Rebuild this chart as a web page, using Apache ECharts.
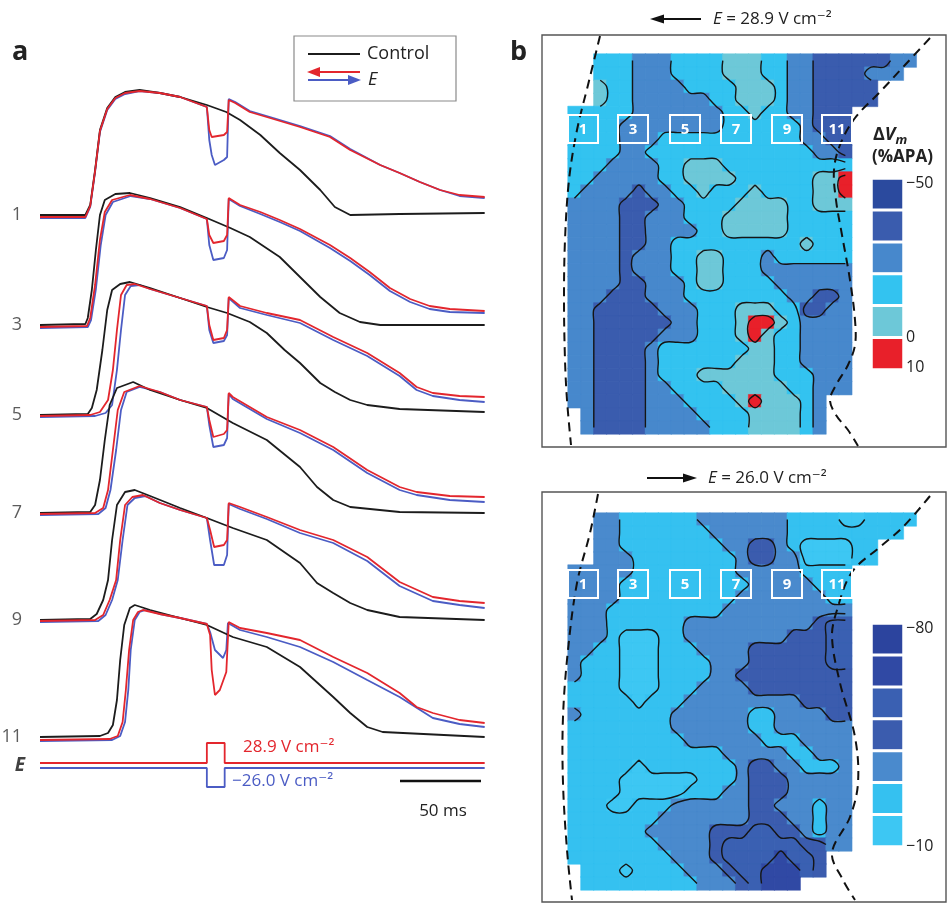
<!DOCTYPE html>
<html>
<head>
<meta charset="utf-8">
<script src="https://cdn.jsdelivr.net/npm/echarts/dist/echarts.min.js"></script>
<style>
html, body { margin: 0; padding: 0; background: #fff; }
#chart { width: 947px; height: 904px; }
</style>
</head>
<body>
<div id="chart"></div>
<script>
// ---- panel a: optical action potentials, time in ms, signal in a.u. above rest ----
var traceLabels = ['1', '3', '5', '7', '9', '11'];
var traceOffsets = [585, 475, 385, 287, 180, 63];

var controlTraces = [
  [[0,0],[28,0],[31,10],[34,45],[37,85],[41.5,107],[46.5,118],[52.5,123],[61.5,125],[74,122],[86.5,118],[103,110],[115,103],[123.5,95],[136,80],[148,62],[160.5,45],[173,25],[182,8],[191.5,0],[222,1],[274.5,2]],
  [[0,0],[28,1],[29.5,7],[32,35],[34.5,75],[37,110],[40,125],[46.5,131],[55.5,132],[68,127],[86.5,118],[103,107],[117.5,97],[129.5,88],[148,68],[160.5,48],[173,28],[185,12],[197.5,3],[210,0],[274.5,0]],
  [[0,0],[29.5,1],[32,7],[35,25],[38.5,65],[41.5,105],[44.5,125],[49.5,131],[55.5,133],[68,127],[86.5,117],[103,108],[115.5,102],[129.5,93],[140,82],[151,65],[160.5,52],[173,32],[182,23],[191.5,15],[202,10],[222,6],[274.5,3]],
  [[0,0],[31,1],[34,8],[37,33],[40,73],[43,108],[47.5,125],[57.5,131],[68,123],[86.5,113],[103,105],[119,90],[140,73],[160.5,46],[171,26],[181,13],[191.5,6],[222,1],[274.5,0]],
  [[0,0],[31,1],[35,6],[39,20],[42,40],[44.5,80],[47.5,115],[52.5,128],[58.5,130],[68,124],[86.5,112],[103,102],[119,92],[140,80],[160.5,57],[171,37],[181,27],[191.5,17],[202,10],[222,3],[274.5,0]],
  [[0,0],[37,1],[42,4],[45,12],[47.5,37],[49.5,77],[52,112],[55.5,129],[58.5,132],[68,127],[86.5,119],[103,112],[119,100],[140,90],[160.5,70],[181,40],[191.5,24],[202,10],[211.5,5],[274.5,0]]
];

var redTraces = [
  [[0,-2],[28,-2],[31,9],[34,44],[37,84],[41.5,106],[46.5,117],[52.5,122],[61.5,124],[74,122],[86.5,118],[103,108],[104.5,85],[106,78],[113.5,80],[115.5,83],[116.5,115],[120.5,112],[129.5,103],[142,97],[160.5,88],[179,78],[191.5,65],[210,50],[222,42],[234.5,33],[247,25],[259,20],[274.5,18]],
  [[0,-2],[29,-1],[31,7],[34,40],[37,85],[40,113],[44.5,125],[55.5,130],[68,126],[86.5,117],[103,106],[104.5,90],[107,82],[113.5,84],[115.5,90],[116.5,127],[123.5,120],[136,113],[148,105],[160.5,96],[179,80],[191.5,67],[203.5,53],[216,37],[228.5,26],[240.5,19],[253,16],[274.5,14]],
  [[0,-1],[31,0],[37,3],[42,15],[45,45],[47.5,85],[50,120],[53.5,130],[58.5,131],[68,126],[86.5,117],[103,109],[104.5,90],[107,75],[113.5,77],[115.5,85],[116.5,118],[123.5,109],[140,102],[160.5,95],[181,78],[202,62],[222,42],[232.5,28],[242.5,22],[259,19],[274.5,18]],
  [[0,-1],[34,0],[39,5],[42,23],[45,63],[48,103],[52,121],[61.5,127],[74,121],[86.5,113],[103,106],[104.5,93],[107,76],[113.5,79],[115.5,83],[116.5,120],[119,116],[140,96],[160.5,83],[181,66],[202,43],[222,26],[232.5,21],[253,17],[274.5,16]],
  [[0,-1],[34,0],[39,5],[43,20],[47,40],[49.5,80],[52.5,115],[57,123],[63.5,125],[74,117],[86.5,110],[103,102],[105,90],[107.5,73],[113.5,75],[115.5,80],[116.5,117],[123.5,113],[140,103],[160.5,90],[181,80],[202,63],[222,38],[242.5,23],[259,19],[274.5,17]],
  [[0,-3],[43,-2],[48,1],[51,15],[53,47],[55,87],[57.5,117],[60.5,125],[63.5,127],[74,123],[86.5,119],[103,113],[105,102],[106,67],[108,42],[111,47],[115,65],[116.5,115],[123.5,109],[140,104],[160.5,97],[181,80],[202,64],[222,44],[232.5,30],[242.5,24],[259,17],[274.5,14]]
];

var blueTraces = [
  [[0,-3],[28,-3],[31,8],[34,43],[37,83],[41.5,105],[46.5,116],[52.5,121],[61.5,124],[74,122],[86.5,118],[103,108],[104.5,75],[106,60],[108,50],[113.5,55],[115.5,58],[116.5,116],[120.5,113],[129.5,104],[142,98],[160.5,89],[179,79],[191.5,66],[210,50],[222,42],[234.5,33],[247,25],[259,19],[274.5,17]],
  [[0,-3],[29.5,-2],[31.5,5],[34.5,36],[37.5,80],[40.5,110],[45,123],[56,129],[68,126],[86.5,117],[103,106],[104.5,80],[107,65],[113.5,67],[115.5,75],[116.5,126],[123.5,119],[136,111],[148,103],[160.5,94],[179,77],[191.5,64],[203.5,50],[216,34],[228.5,23],[240.5,16],[253,13],[274.5,12]],
  [[0,-2],[34,-1],[40.5,2],[44.5,10],[47.5,45],[50,85],[52.5,120],[56,129],[61.5,130],[68,126],[86.5,117],[103,109],[104.5,85],[107,72],[113.5,74],[115.5,80],[116.5,117],[123.5,107],[140,100],[160.5,92],[181,75],[202,59],[222,39],[232.5,25],[242.5,19],[259,15],[274.5,13]],
  [[0,-2],[36,-1],[40.5,5],[43.5,23],[47,63],[50,103],[53.5,121],[61.5,126],[74,121],[86.5,113],[103,106],[104.5,88],[107,66],[113.5,68],[115.5,75],[116.5,119],[119,114],[140,94],[160.5,80],[181,63],[202,40],[222,23],[232.5,18],[253,13],[274.5,11]],
  [[0,-2],[36,-1],[40.5,5],[44.5,20],[48,40],[51,80],[54,115],[58.5,122],[65,124],[74,117],[86.5,110],[103,102],[105,80],[107.5,55],[113.5,55],[115.5,65],[116.5,116],[123.5,111],[140,101],[160.5,87],[181,77],[202,59],[222,34],[242.5,19],[259,15],[274.5,12]],
  [[0,-4],[44.5,-3],[49.5,1],[52.5,15],[54.5,47],[56,87],[58.5,117],[61.5,125],[65,127],[74,123],[86.5,119],[103,113],[105,105],[108,87],[113,79],[115,87],[116,114],[123.5,107],[140,100],[160.5,90],[181,75],[202,57],[222,40],[242.5,19],[259,13],[274.5,10]]
];

// field pulse (bottom "E" row)
var pulseRed = [[0,0],[103,0],[103,20],[114,20],[114,0],[274.5,0]];
var pulseBlue = [[0,0],[103,0],[103,-19],[114,-19],[114,0],[274.5,0]];
var pulseOffsets = [37, 32];

// ---- panel b: ΔVm maps, one character per pixel cell = colour band index, '.' = no data ----
var mapTopRows = [
  '..4443334444555443322222233',
  '..444333444455544332222333.',
  '..5443333444455543322222...',
  '..5443333334455543322222...',
  '4444433333334454433222.....',
  '4444333333334444443222.....',
  '4444333444444444443322.....',
  '4444334444444444444332.....',
  '4443333445554444444444.....',
  '4433333445555444444556.....',
  '4333323344544454444556.....',
  '3333222334444555544555.....',
  '3333223334445555544444.....',
  '3333223333445555544444.....',
  '3333223344444444445444.....',
  '3333233344554443444444.....',
  '3333233344554443333333.....',
  '3333223334554444333333.....',
  '3332223334444444433223.....',
  '3322222333444555442233.....',
  '3322222233444566543333.....',
  '3322222333444565443333.....',
  '3322223444444455443333.....',
  '3322223444444555443333.....',
  '3322223444555555444333.....',
  '3322223344445555544333.....',
  '33222233344445655543.......',
  '.3222233334444555543.......',
  '.3222233333444555543.......'
];
var mapBottomRows = [
  '..5566666655555556666776666',
  '..556666666555555666666666.',
  '..5566666666554456777766...',
  '..5556666666654455777766...',
  '5555566666666555556666.....',
  '5555666666666655555666.....',
  '5555666666666555555566.....',
  '5556666666665555555555.....',
  '5556666665555555555433.....',
  '5556777665555555544433.....',
  '5566777666555544444433.....',
  '5666777666655544444433.....',
  '5666777666655444444444.....',
  '6666777666555544444444.....',
  '6666676665555555554444.....',
  '5666666655555566555544.....',
  '6666666655555566555555.....',
  '6666666665555556665555.....',
  '6666666666665555566555.....',
  '6666676666666544556665.....',
  '6666777777666544455555.....',
  '6666777776665544455555.....',
  '6667766655555544555655.....',
  '6666666555555544455655.....',
  '6666665555544433445655.....',
  '6666666555543333334455.....',
  '66666666555433332334.......',
  '.6667666655543322234.......',
  '.66666666655543222........'
];

var topLevels = [1, 2, 3, 4, 5, 6];          // -50 ... 10 %APA
var bottomLevels = [1, 2, 3, 4, 5, 6, 7];    // -80 ... -10 %APA
var topColors = ['#2b4a9e', '#3a5cae', '#4788cc', '#33c3f0', '#6dc8d8', '#e8202a'];
var bottomColors = ['#2c449e', '#3049a4', '#3a60b2', '#3b5cae', '#4a8acd', '#35c1f0', '#3dc7f3'];
var electrodeLabels = ['1', '3', '5', '7', '9', '11'];

var FONT = '"Open Sans", "DejaVu Sans", sans-serif';
var RED = '#e3262d', BLUE = '#4b5cc4', BLACK = '#1c1c1c';

function shift(points, off) {
  return points.map(function (p) { return [p[0], p[1] + off]; });
}

// cells carry a same-colour hairline border so neighbouring rects leave no seam
function heatData(rows, colors) {
  var out = [];
  for (var r = 0; r < rows.length; r++) {
    for (var c = 0; c < rows[r].length; c++) {
      var ch = rows[r].charAt(c);
      if (ch === '.') continue;
      var lv = Number(ch);
      out.push({ value: [c, r, lv], itemStyle: { borderColor: colors[lv - 1], borderWidth: 0.5 } });
    }
  }
  return out;
}

// marching squares over cell centres, one pass per band boundary
function contourSegments(rows, thresholds) {
  var segs = [];
  function val(r, c) { var ch = rows[r].charAt(c); return ch === '.' ? null : Number(ch); }
  for (var k = 0; k < thresholds.length; k++) {
    var t = thresholds[k];
    for (var r = 0; r < rows.length - 1; r++) {
      for (var c = 0; c < rows[r].length - 1; c++) {
        var v = [val(r, c), val(r, c + 1), val(r + 1, c + 1), val(r + 1, c)];
        if (v.indexOf(null) >= 0) continue;
        var p = [[c, r], [c + 1, r], [c + 1, r + 1], [c, r + 1]];
        var pts = [];
        for (var e = 0; e < 4; e++) {
          var a = v[e], b = v[(e + 1) % 4];
          if ((a > t) !== (b > t)) {
            var f = (t - a) / (b - a);
            var pa = p[e], pb = p[(e + 1) % 4];
            pts.push([pa[0] + 0.5 + f * (pb[0] - pa[0]), pa[1] + 0.5 + f * (pb[1] - pa[1])]);
          }
        }
        if (pts.length === 2) segs.push({ t: t, coords: pts });
        else if (pts.length === 4) {
          segs.push({ t: t, coords: [pts[0], pts[1]] });
          segs.push({ t: t, coords: [pts[2], pts[3]] });
        }
      }
    }
  }
  return segs;
}

// join the little segments into continuous contour paths
function chainSegments(segs) {
  function key(p) { return p[0].toFixed(3) + ',' + p[1].toFixed(3); }
  var ends = {};
  segs.forEach(function (s, i) {
    for (var j = 0; j < 2; j++) {
      var k = s.t + ':' + key(s.coords[j]);
      (ends[k] = ends[k] || []).push(i);
    }
  });
  var used = [], chains = [];
  function extend(chain, t) {
    for (;;) {
      var last = chain[chain.length - 1];
      var list = ends[t + ':' + key(last)] || [];
      var next = -1;
      for (var n = 0; n < list.length; n++) if (!used[list[n]]) { next = list[n]; break; }
      if (next < 0) return;
      used[next] = true;
      var c = segs[next].coords;
      chain.push(key(c[0]) === key(last) ? c[1] : c[0]);
    }
  }
  for (var i = 0; i < segs.length; i++) {
    if (used[i]) continue;
    used[i] = true;
    var chain = [segs[i].coords[0], segs[i].coords[1]];
    extend(chain, segs[i].t);
    chain.reverse();
    extend(chain, segs[i].t);
    chains.push(chain);
  }
  return chains;
}

function contourSeries(rows, thresholds, axisIndex) {
  var chains = chainSegments(contourSegments(rows, thresholds));
  return {
    type: 'custom', coordinateSystem: 'cartesian2d', xAxisIndex: axisIndex, yAxisIndex: axisIndex,
    silent: true, z: 5,
    data: chains.map(function (ch, k) { return [ch[0][0], ch[0][1], k]; }),
    renderItem: function (params, api) {
      var pts = chains[api.value(2)].map(function (p) { return api.coord(p); });
      return { type: 'polyline', shape: { points: pts, smooth: 0.35 },
        style: { stroke: '#151515', lineWidth: 1.4, fill: null } };
    }
  };
}

function range(n) { var a = []; for (var i = 0; i < n; i++) a.push(String(i)); return a; }

var chart = echarts.init(document.getElementById('chart'), null, { renderer: 'canvas' });

var cols = mapTopRows[0].length, rowsN = mapTopRows.length;
var mapW = cols * 12.9;

var grids = [
  { left: 40, top: 60, width: 445, height: 740 },          // 0 traces
  { left: 568, top: 54, width: mapW, height: 380 },        // 1 top map
  { left: 568, top: 54, width: mapW, height: 380 },        // 2 top contours
  { left: 871.5, top: 178.5, width: 32, height: 191 },     // 3 top colour bar
  { left: 568, top: 513, width: mapW, height: 377 },       // 4 bottom map
  { left: 568, top: 513, width: mapW, height: 377 },       // 5 bottom contours
  { left: 871.5, top: 623.5, width: 32, height: 223 }      // 6 bottom colour bar
];

var xAxes = [
  { gridIndex: 0, type: 'value', min: 0, max: 274.7, show: false },
  { gridIndex: 1, type: 'category', data: range(cols), show: false },
  { gridIndex: 2, type: 'value', min: 0, max: cols, show: false },
  { gridIndex: 3, type: 'category', data: ['0'], show: false },
  { gridIndex: 4, type: 'category', data: range(cols), show: false },
  { gridIndex: 5, type: 'value', min: 0, max: cols, show: false },
  { gridIndex: 6, type: 'category', data: ['0'], show: false }
];
var yAxes = [
  { gridIndex: 0, type: 'value', min: 0, max: 740, show: false },
  { gridIndex: 1, type: 'category', data: range(rowsN), inverse: true, show: false },
  { gridIndex: 2, type: 'value', min: 0, max: rowsN, inverse: true, show: false },
  { gridIndex: 3, type: 'category', data: range(topLevels.length), inverse: true, show: false },
  { gridIndex: 4, type: 'category', data: range(mapBottomRows.length), inverse: true, show: false },
  { gridIndex: 5, type: 'value', min: 0, max: mapBottomRows.length, inverse: true, show: false },
  { gridIndex: 6, type: 'category', data: range(bottomLevels.length), inverse: true, show: false }
];

var series = [];
function addLine(data, color, z) {
  series.push({
    type: 'line', xAxisIndex: 0, yAxisIndex: 0, data: data, showSymbol: false, symbol: 'none',
    lineStyle: { color: color, width: 1.8 }, z: z, silent: true, clip: false
  });
}
for (var i = 0; i < traceOffsets.length; i++) addLine(shift(blueTraces[i], traceOffsets[i]), BLUE, 2);
for (i = 0; i < traceOffsets.length; i++) addLine(shift(controlTraces[i], traceOffsets[i]), BLACK, 3);
for (i = 0; i < traceOffsets.length; i++) addLine(shift(redTraces[i], traceOffsets[i]), RED, 4);
addLine(shift(pulseRed, pulseOffsets[0]), RED, 4);
addLine(shift(pulseBlue, pulseOffsets[1]), BLUE, 4);

// trace numbers and the "E" row label, anchored at t = 0
var labelPts = traceOffsets.map(function (o, k) {
  return { value: [0, o], label: { formatter: traceLabels[k] } };
});
labelPts.push({ value: [0, (pulseOffsets[0] + pulseOffsets[1]) / 2],
  label: { formatter: 'E', fontWeight: 'bold', fontStyle: 'italic', fontSize: 19, color: '#111', distance: 15 } });
series.push({
  type: 'scatter', xAxisIndex: 0, yAxisIndex: 0, symbolSize: 0, data: labelPts, silent: true,
  label: { show: true, position: 'left', distance: 18, color: '#333', fontSize: 18, fontFamily: FONT }
});

var heatTopIdx = series.length;
series.push({ type: 'heatmap', xAxisIndex: 1, yAxisIndex: 1, data: heatData(mapTopRows, topColors), silent: true, z: 2 });
series.push(contourSeries(mapTopRows, [1.5, 2.5, 3.5, 4.5, 5.5], 2));
var barTopIdx = series.length;
series.push({
  type: 'heatmap', xAxisIndex: 3, yAxisIndex: 3, silent: true,
  data: topLevels.map(function (l, k) { return [0, k, l]; }),
  itemStyle: { borderColor: '#fff', borderWidth: 3 }
});
var heatBotIdx = series.length;
series.push({ type: 'heatmap', xAxisIndex: 4, yAxisIndex: 4, data: heatData(mapBottomRows, bottomColors), silent: true, z: 2 });
series.push(contourSeries(mapBottomRows, [1.5, 2.5, 3.5, 4.5, 5.5, 6.5], 5));
var barBotIdx = series.length;
series.push({
  type: 'heatmap', xAxisIndex: 6, yAxisIndex: 6, silent: true,
  data: bottomLevels.map(function (l, k) { return [0, k, l]; }),
  itemStyle: { borderColor: '#fff', borderWidth: 3 }
});

// ---- decorations ----
var g = [];
function txt(x, y, text, opt) {
  var s = { text: text, x: x, y: y, fill: (opt && opt.fill) || '#222', font: (opt && opt.font) || ('17px ' + FONT),
    textAlign: (opt && opt.align) || 'left', align: (opt && opt.align) || 'left',
    textVerticalAlign: 'middle', verticalAlign: 'middle' };
  if (opt && opt.rich) s.rich = opt.rich;
  g.push({ type: 'text', z: 20, style: s, silent: true });
}
function seg(x1, y1, x2, y2, color, w, dash) {
  g.push({ type: 'line', z: 20, silent: true, shape: { x1: x1, y1: y1, x2: x2, y2: y2 },
    style: { stroke: color, lineWidth: w, lineDash: dash || null } });
}
function head(pts, color) {
  g.push({ type: 'polygon', z: 20, silent: true, shape: { points: pts }, style: { fill: color } });
}
function dashed(pts) {
  g.push({ type: 'polyline', z: 20, silent: true, shape: { points: pts, smooth: 0.35 },
    style: { stroke: '#111', lineWidth: 2, lineDash: [9, 6], fill: null } });
}

txt(12, 52, 'a', { font: 'bold 27px ' + FONT });
txt(510, 52, 'b', { font: 'bold 27px ' + FONT });

// legend box
g.push({ type: 'rect', z: 20, silent: true, shape: { x: 294, y: 36, width: 162, height: 65 },
  style: { fill: '#fff', stroke: '#8a8a8a', lineWidth: 1.2 } });
seg(308, 54, 360, 54, BLACK, 2);
txt(367, 54, 'Control', { font: '18px ' + FONT });
seg(316, 72, 360, 72, RED, 2);
head([[307, 72], [320, 67], [320, 77]], RED);
seg(308, 80, 352, 80, BLUE, 2);
head([[361, 80], [348, 75], [348, 85]], BLUE);
txt(368, 80, 'E', { font: 'italic 18px ' + FONT });

// pulse annotations and scale bar
txt(243, 747, '28.9 V cm⁻²', { fill: RED, font: '17px ' + FONT });
txt(232, 781, '−26.0 V cm⁻²', { fill: BLUE, font: '17px ' + FONT });
seg(400, 781, 481, 781, '#111', 2.5);
txt(443, 811, '50 ms', { align: 'center', font: '17px ' + FONT });

// map frames and titles
g.push({ type: 'rect', z: 1, silent: true, shape: { x: 542, y: 35, width: 404, height: 412 },
  style: { fill: null, stroke: '#555', lineWidth: 1.4 } });
g.push({ type: 'rect', z: 1, silent: true, shape: { x: 542, y: 492, width: 404, height: 410 },
  style: { fill: null, stroke: '#555', lineWidth: 1.4 } });
var titleRich = { i: { fontStyle: 'italic', fontSize: 17, fontFamily: FONT, fill: '#222' },
  n: { fontSize: 17, fontFamily: FONT, fill: '#222' } };
seg(662, 19, 701, 19, '#111', 1.8);
head([[650, 19], [664, 14.5], [664, 23.5]], '#111');
txt(713, 19, '{i|E}{n| = 28.9 V cm⁻²}', { rich: titleRich });
seg(647, 478, 685, 478, '#111', 1.8);
head([[697, 478], [683, 473.5], [683, 482.5]], '#111');
txt(708, 478, '{i|E}{n| = 26.0 V cm⁻²}', { rich: titleRich });

// tissue outline
dashed([[600,36],[588,85],[577,130],[569,180],[565,240],[564,300],[565,360],[567,400],[571,445]]);
dashed([[930,38],[905,65],[880,92],[855,118],[840,145],[834,170],[836,200],[842,235],[850,280],[855,320],[855,345],[848,365],[836,385],[830,400],[836,415],[848,430],[858,446]]);
dashed([[598,494],[590,533],[577,583],[568,650],[563,717],[563,783],[567,850],[572,900]]);
dashed([[930,496],[903,527],[880,547],[852,572],[837,610],[832,637],[840,683],[855,737],[858,783],[850,817],[832,853],[843,880],[855,900]]);

// electrode sites
var siteX = [583, 633, 685, 736, 787, 837];
[129, 584].forEach(function (cy) {
  for (var k = 0; k < siteX.length; k++) {
    g.push({ type: 'rect', z: 21, silent: true, shape: { x: siteX[k] - 15, y: cy - 14, width: 30, height: 28 },
      style: { fill: null, stroke: '#fff', lineWidth: 2 } });
    txt(siteX[k], cy + 1, electrodeLabels[k], { align: 'center', fill: '#fff', font: 'bold 15px ' + FONT });
  }
});

// colour bar labels
txt(873, 135, '{a|Δ}{b|V}{c|m}', { font: 'bold 18px ' + FONT, rich: {
  a: { fontWeight: 'bold', fontSize: 18, fontFamily: FONT, fill: '#222' },
  b: { fontWeight: 'bold', fontStyle: 'italic', fontSize: 18, fontFamily: FONT, fill: '#222' },
  c: { fontWeight: 'bold', fontStyle: 'italic', fontSize: 13, fontFamily: FONT, fill: '#222', padding: [10, 0, 0, 0] } } });
txt(872, 157, '(%APA)', { font: 'bold 17px ' + FONT });
txt(906, 183, '−50', { font: '16px ' + FONT });
txt(906, 337, '0', { font: '16px ' + FONT });
txt(906, 367, '10', { font: '16px ' + FONT });
txt(906, 628, '−80', { font: '16px ' + FONT });
txt(906, 846, '−10', { font: '16px ' + FONT });

chart.setOption({
  animation: false,
  backgroundColor: '#fff',
  grid: grids,
  xAxis: xAxes,
  yAxis: yAxes,
  visualMap: [
    { type: 'piecewise', show: false, dimension: 2, seriesIndex: [heatTopIdx, barTopIdx],
      pieces: topLevels.map(function (l, k) { return { value: l, color: topColors[k] }; }) },
    { type: 'piecewise', show: false, dimension: 2, seriesIndex: [heatBotIdx, barBotIdx],
      pieces: bottomLevels.map(function (l, k) { return { value: l, color: bottomColors[k] }; }) }
  ],
  series: series,
  graphic: g
});
</script>
</body>
</html>
